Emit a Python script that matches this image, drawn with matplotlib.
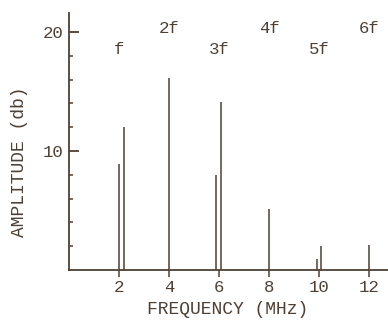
import matplotlib
matplotlib.use("Agg")
import matplotlib.pyplot as plt

# spectral lines (MHz, dB)
freqs = [2.0, 2.2, 4.0, 5.87, 6.08, 8.0, 9.9, 10.08, 12.0]
amps = [8.9, 12.0, 16.1, 8.0, 14.1, 5.1, 0.95, 2.05, 2.1]

# harmonic labels
harm_labels = ["f", "2f", "3f", "4f", "5f", "6f"]
harm_x = [2, 4, 6, 8, 10, 12]
harm_y = [18.5, 20.3, 18.5, 20.3, 18.5, 20.3]

xticks = [2, 4, 6, 8, 10, 12]
yticks = [10, 20]
yminor = [2, 4, 6, 8, 12, 14, 16, 18]

ink = "#4e4034"
font = "Liberation Mono"
fs = 12.5

fig = plt.figure(figsize=(3.88, 3.20), dpi=100)
ax = fig.add_axes([69 / 388, 50 / 320, 1 - 69 / 388, 257 / 320])

ax.vlines(freqs, 0, amps, color=ink, linewidth=1.1)
for lab, x, y in zip(harm_labels, harm_x, harm_y):
    ax.text(x, y, lab, ha="center", va="center", color=ink,
            fontsize=fs, family=font)

ax.set_xlim(0, 12.76)
ax.set_ylim(0, 21.6)

for side in ["top", "right"]:
    ax.spines[side].set_visible(False)
for side in ["left", "bottom"]:
    ax.spines[side].set_color(ink)
    ax.spines[side].set_linewidth(1.3)

ax.set_xticks(xticks)
ax.set_xticklabels([str(t) for t in xticks], family=font, fontsize=fs, color=ink)
ax.tick_params(axis="x", direction="out", length=5, width=1.1, color=ink, pad=2)

ax.set_yticks(yticks)
ax.set_yticklabels([str(t) for t in yticks], family=font, fontsize=fs, color=ink)
ax.set_yticks(yminor, minor=True)
ax.tick_params(axis="y", which="major", direction="in", length=7, width=1.3,
               color=ink, pad=4)
ax.tick_params(axis="y", which="minor", direction="in", length=3, width=1.1,
               color=ink)

# x label placed just above the bottom edge, as in the scan
fig.text(228 / 388, 1 - 309 / 320, "FREQUENCY (MHz)", ha="center", va="center",
         family=font, fontsize=13, color=ink)
ax.set_ylabel("AMPLITUDE (db)", family=font, fontsize=13, color=ink)
ax.yaxis.set_label_coords(-0.13, 0.42)

fig.savefig("out.png", dpi=100)
